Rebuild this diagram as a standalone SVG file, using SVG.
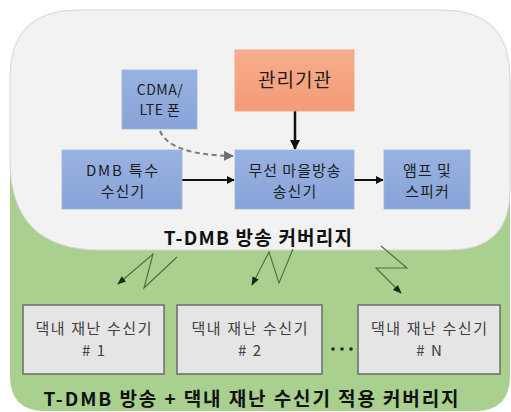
<svg xmlns="http://www.w3.org/2000/svg" width="511" height="412" viewBox="0 0 511 412">
<style>
text{font-family:"Malgun Gothic","Noto Sans CJK KR","Noto Sans",sans-serif;text-anchor:middle;}
.t{font-size:15px;fill:#1e1e1e;letter-spacing:1px;}
.g{font-size:15px;fill:#404040;letter-spacing:1.6px;}
.h{font-size:19px;font-weight:bold;fill:#111;}
.blue{fill:url(#bg);stroke:#9fb4e0;stroke-width:0.8;}
.gray{fill:#e5e5e5;stroke:#6b6b6b;stroke-width:1.5;}
.bolt{fill:none;stroke:#4b6e3c;stroke-width:1.1;}
</style>
<defs>
<linearGradient id="bg" x1="0" y1="0" x2="0" y2="1"><stop offset="0" stop-color="#9ab2e2"/><stop offset="1" stop-color="#88a3d8"/></linearGradient>
<linearGradient id="og" x1="0" y1="0" x2="0" y2="1"><stop offset="0" stop-color="#f7ae8c"/><stop offset="1" stop-color="#f49b76"/></linearGradient>
<marker id="ah" viewBox="0 0 10 10" refX="9" refY="5" markerWidth="4" markerHeight="4" orient="auto"><path d="M0,0L10,5L0,10z" fill="#111"/></marker>
<marker id="ad" viewBox="0 0 10 10" refX="9" refY="5" markerWidth="5" markerHeight="5" orient="auto"><path d="M0,0L10,5L0,10z" fill="#6f6f6f"/></marker>
<marker id="ab" viewBox="0 0 10 10" refX="9" refY="5" markerWidth="8" markerHeight="8" orient="auto"><path d="M0,1L10,5L0,9z" fill="#1b2a14"/></marker>
</defs>
<g id="background">
<path d="M10,150 H510 V376 Q510,411 475,411 H45 Q10,411 10,376 Z" fill="#a9d08e"/>
<path d="M78,10 H442 Q510,10 510,78 V190 Q510,250 450,250 H100 Q10,250 10,160 V78 Q10,10 78,10 Z" fill="#f2f2f2" stroke="#d6d6d6" stroke-width="1"/>
</g>
<g id="connectors">
<line x1="295" y1="111" x2="295" y2="149" stroke="#111" stroke-width="2.5" marker-end="url(#ah)"/>
<line x1="182" y1="180" x2="234" y2="180" stroke="#111" stroke-width="2" marker-end="url(#ah)"/>
<line x1="354" y1="180" x2="383" y2="180" stroke="#111" stroke-width="2" marker-end="url(#ah)"/>
<path d="M160,131 Q170,155 233,156" fill="none" stroke="#7a7a7a" stroke-width="2" stroke-dasharray="5,3.5" marker-end="url(#ad)"/>
<polyline class="bolt" points="177,257 144,288 153,254 118,284" marker-end="url(#ab)"/>
<polyline class="bolt" points="293,249 279,283 269,252 252,285" marker-end="url(#ab)"/>
<polyline class="bolt" points="381,246 407,268 376,268 401,293" marker-end="url(#ab)"/>
</g>
<g id="n-admin">
<rect x="235" y="50" width="119" height="61" fill="url(#og)" stroke="#f0a07c" stroke-width="0.8"/>
<text x="295" y="87" style="font-size:19px;fill:#1e1e1e;letter-spacing:1px">관리기관</text>
</g>
<g id="n-cdma">
<rect class="blue" x="122" y="70" width="75" height="59"/>
<text class="t" x="160" y="95" style="font-size:14px;letter-spacing:0.5px">CDMA/</text>
<text class="t" x="160" y="115" style="font-size:14px;letter-spacing:0.5px">LTE 폰</text>
</g>
<g id="n-dmb">
<rect class="blue" x="62" y="150" width="120" height="59"/>
<text class="t" x="123" y="176" style="letter-spacing:1.8px">DMB 특수</text>
<text class="t" x="123" y="197">수신기</text>
</g>
<g id="n-tx">
<rect class="blue" x="235" y="150" width="119" height="59"/>
<text class="t" x="295" y="176">무선 마을방송</text>
<text class="t" x="295" y="197">송신기</text>
</g>
<g id="n-amp">
<rect class="blue" x="384" y="150" width="86" height="59"/>
<text class="t" x="427.5" y="176">앰프 및</text>
<text class="t" x="427.5" y="197">스피커</text>
</g>
<text class="h" x="258.5" y="245" style="letter-spacing:1.2px">T-DMB 방송 커버리지</text>
<g id="n-rx1">
<rect class="gray" x="23" y="305" width="141" height="69"/>
<text class="g" x="94.3" y="334">댁내 재난 수신기</text>
<text class="g" x="94.3" y="356"># 1</text>
</g>
<g id="n-rx2">
<rect class="gray" x="177" y="305" width="145" height="69"/>
<text class="g" x="250.3" y="334">댁내 재난 수신기</text>
<text class="g" x="250.3" y="356"># 2</text>
</g>
<g id="dots">
<circle cx="333" cy="349" r="1.8" fill="#222"/>
<circle cx="342" cy="349" r="1.8" fill="#222"/>
<circle cx="351" cy="349" r="1.8" fill="#222"/>
</g>
<g id="n-rxn">
<rect class="gray" x="358" y="305" width="142" height="69"/>
<text class="g" x="429.8" y="334">댁내 재난 수신기</text>
<text class="g" x="429.8" y="356"># N</text>
</g>
<text class="h" x="252" y="406" style="letter-spacing:1.9px">T-DMB 방송 + 댁내 재난 수신기 적용 커버리지</text>
</svg>
